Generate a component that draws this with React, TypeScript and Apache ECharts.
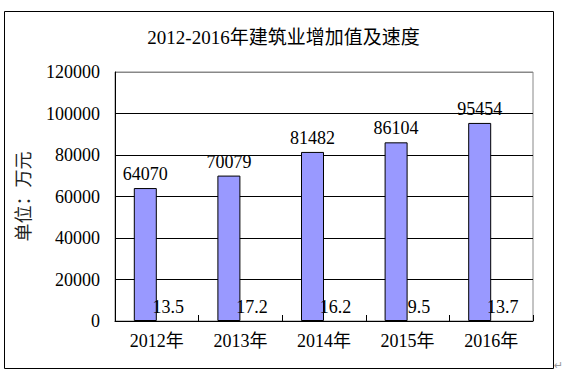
import React, { useEffect, useRef } from 'react';
import * as echarts from 'echarts';

const title = '2012-2016年建筑业增加值及速度';
const categories = ['2012年', '2013年', '2014年', '2015年', '2016年'];
const addedValues = [64070, 70079, 81482, 86104, 95454];
const growthRates = [13.5, 17.2, 16.2, 9.5, 13.7];
const yAxisName = '单位：万元';

const FONT = '"Liberation Serif", "Noto Sans CJK SC", serif';

export default function App() {
  const ref = useRef<HTMLDivElement>(null);
  useEffect(() => {
    if (!ref.current) return;
    const chart = echarts.init(ref.current, undefined, { renderer: 'svg' });
    chart.setOption({
      animation: false,
      backgroundColor: '#fff',
      textStyle: { fontFamily: FONT, color: '#000' },
      title: {
        text: title,
        left: 'center',
        top: 23,
        textStyle: { fontFamily: FONT, fontSize: 19, fontWeight: 'normal', color: '#000' },
      },
      grid: {
        left: 115,
        right: 34,
        top: 72,
        bottom: 56,
        show: true,
        borderColor: '#888',
        borderWidth: 1,
        backgroundColor: 'transparent',
      },
      xAxis: {
        type: 'category',
        data: categories,
        axisLine: { lineStyle: { color: '#000', width: 1 } },
        axisTick: { show: true, inside: true, length: 6, lineStyle: { color: '#000' } },
        axisLabel: { fontFamily: FONT, fontSize: 18, color: '#000', margin: 11 },
      },
      yAxis: {
        type: 'value',
        min: 0,
        max: 120000,
        interval: 20000,
        name: yAxisName,
        nameLocation: 'middle',
        nameRotate: 90,
        nameGap: 82,
        nameTextStyle: { fontFamily: FONT, fontSize: 18, color: '#222' },
        axisLine: { show: true, lineStyle: { color: '#000', width: 1 } },
        axisTick: { show: false },
        axisLabel: {
          fontFamily: FONT,
          fontSize: 18,
          color: '#000',
          margin: 15,
          formatter: (v: number) => String(v),
        },
        splitLine: {
          show: true,
          lineStyle: { color: ['#000', '#000', '#000', '#000', '#000', '#000', '#888'], width: 1 },
        },
      },
      series: [
        {
          type: 'bar',
          data: addedValues,
          barWidth: 23,
          barGap: '0%',
          itemStyle: { color: '#9999FF', borderColor: '#000', borderWidth: 1 },
          label: {
            show: true,
            position: 'top',
            distance: 5,
            fontFamily: FONT,
            fontSize: 18,
            color: '#000',
          },
        },
        {
          type: 'bar',
          data: growthRates,
          barWidth: 23,
          barGap: '0%',
          itemStyle: { color: 'rgba(0,0,0,0)', borderWidth: 0 },
          label: {
            show: true,
            position: 'top',
            distance: 5,
            fontFamily: FONT,
            fontSize: 18,
            color: '#000',
            formatter: (p: any) => Number(p.value).toFixed(1),
          },
        },
      ],
      graphic: [
        {
          type: 'rect',
          shape: { x: 4.5, y: 11.5, width: 549, height: 357 },
          style: { fill: 'none', stroke: '#000', lineWidth: 1 },
          silent: true,
        },
        {
          type: 'text',
          x: 554,
          y: 360,
          style: { text: '↵', fontSize: 11, fill: '#999', fontFamily: '"DejaVu Sans", sans-serif' },
          silent: true,
        },
      ],
    });
    return () => chart.dispose();
  }, []);
  return (
    <div
      ref={ref}
      style={{ position: 'absolute', left: 0, top: 0, width: 567, height: 377 }}
    />
  );
}
